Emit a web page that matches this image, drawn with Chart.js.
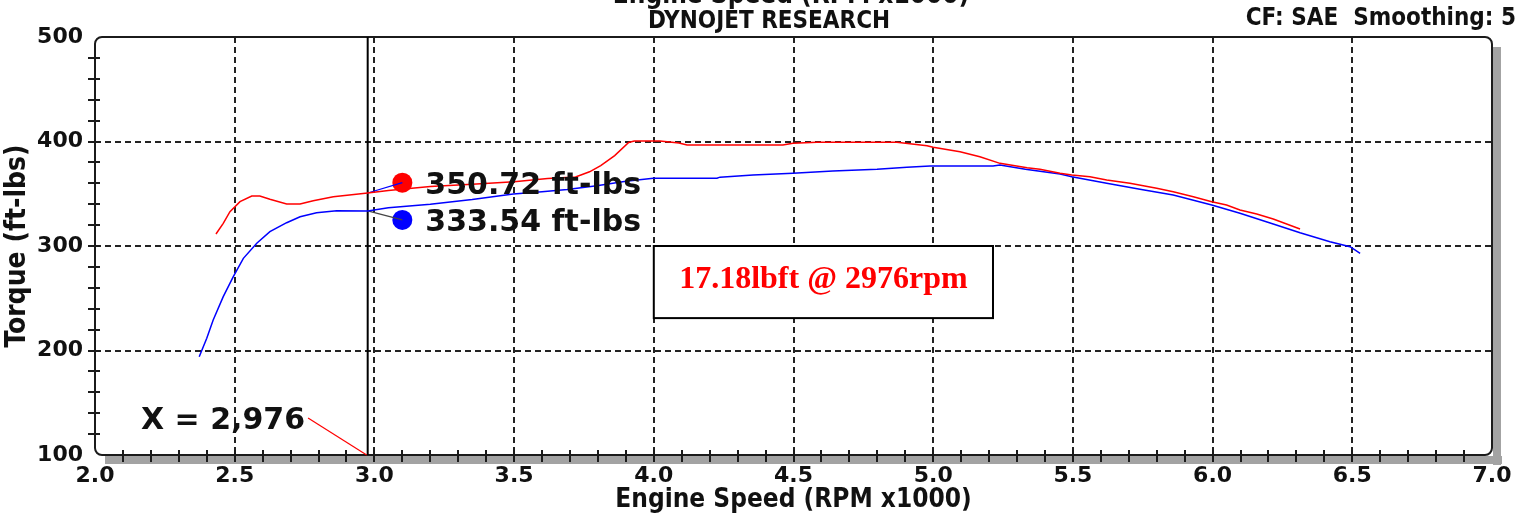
<!DOCTYPE html>
<html>
<head>
<meta charset="utf-8">
<script src="https://cdn.jsdelivr.net/npm/chart.js@4/dist/chart.umd.min.js"></script>
<style>
  html, body { margin: 0; padding: 0; background: #fff; }
</style>
</head>
<body>
<canvas id="dyno" width="1534" height="514"></canvas>
<script>
// Run 1 (red) - engine speed in RPM x1000 / torque in ft-lbs
const rpmRun1 = [2.433, 2.459, 2.483, 2.519, 2.561, 2.59, 2.626, 2.686, 2.734, 2.781, 2.853, 2.976,
  3.05, 3.2, 3.35, 3.5, 3.62, 3.72, 3.77, 3.81, 3.86, 3.91, 3.93, 4.022, 4.09, 4.119, 4.462, 4.498,
  4.584, 4.87, 4.978, 5.0, 5.096, 5.167, 5.239, 5.336, 5.382, 5.454, 5.496, 5.561, 5.621, 5.704,
  5.8, 5.859, 5.931, 5.997, 6.05, 6.098, 6.158, 6.217, 6.265, 6.313];
const torqueRun1 = [311.5, 321.7, 332.8, 342.4, 347.8, 347.8, 344.7, 340.2, 340.2, 343.3, 347.2, 350.72,
  353, 357, 359, 361.5, 364.5, 366, 371, 377, 386.5, 399, 400.5, 400.5, 398.5, 396.7, 396.7, 398.3,
  399.2, 399.2, 396, 394.5, 390.2, 385.4, 379.1, 374.9, 373.4, 369.6, 368, 366.3, 363.2, 360,
  355.2, 352, 347.2, 342.4, 339.2, 334.4, 330.6, 325.8, 321.1, 316.3];

// Run 2 (blue)
const rpmRun2 = [2.373, 2.4, 2.423, 2.459, 2.495, 2.531, 2.579, 2.626, 2.686, 2.734, 2.793, 2.865, 2.976,
  3.05, 3.2, 3.35, 3.497, 3.6, 3.69, 3.796, 3.9, 3.998, 4.226, 4.237, 4.355, 4.498, 4.641, 4.799,
  4.906, 4.989, 5.214, 5.239, 5.33, 5.454, 5.496, 5.621, 5.74, 5.859, 5.997, 6.098, 6.217, 6.313,
  6.42, 6.492, 6.528];
const torqueRun2 = [194.1, 211.7, 229.2, 251.5, 270.6, 288.2, 302.6, 313.7, 322.3, 328, 331.9, 333.8, 333.54,
  336.5, 340, 344.5, 349.8, 352, 354, 357.7, 362, 364.8, 364.8, 365.9, 367.9, 369.6, 371.8, 373.4,
  375.3, 376.6, 376.6, 377.5, 373.5, 368.9, 366.3, 360, 354.3, 348.8, 339.2, 331.3, 321.1, 312.7,
  304.1, 299.3, 293];

const cursorRpm = 2.976;
const cursorTorque = [350.72, 333.54];
const markerRpm = 3.1;
const markerTorque = [360.6, 325];
const markerLabels = ["350.72 ft-lbs", "333.54 ft-lbs"];
const cursorLabel = "X = 2,976";
const noteText = "17.18lbft @ 2976rpm";
const topTitle = "DYNOJET RESEARCH";
const topRight = "CF: SAE  Smoothing: 5";
const xTitle = "Engine Speed (RPM x1000)";
const yTitle = "Torque (ft-lbs)";

const RED = "#ff0000", BLUE = "#0000ff";
const BOLD = "'DejaVu Sans', Verdana, sans-serif";
const COND = "'DejaVu Sans Condensed', 'Liberation Sans Narrow', 'DejaVu Sans', sans-serif";

const pts = (xs, ys) => xs.map((v, i) => ({ x: v, y: ys[i] }));
const isMult = (v, m) => Math.abs(v / m - Math.round(v / m)) < 1e-6;

const dynoDecor = {
  id: "dynoDecor",
  beforeDatasetsDraw(chart) {
    const { ctx, chartArea: a, scales: { x, y } } = chart;
    ctx.save();
    // 3D-ish shadow on the right and bottom of the frame
    ctx.fillStyle = "#a3a3a3";
    ctx.fillRect(a.right + 1, a.top + 10, 8, a.bottom - a.top);
    ctx.fillRect(a.left + 10, a.bottom + 1, a.right - a.left, 8);
    // frame
    ctx.strokeStyle = "#1b1b1b";
    ctx.lineWidth = 2;
    ctx.beginPath();
    ctx.roundRect(a.left, a.top, a.right - a.left, a.bottom - a.top, 7);
    ctx.stroke();
    // tick marks crossing the axes
    ctx.lineWidth = 2;
    const yt = y.ticks;
    for (let i = 1; i < yt.length - 1; i++) {
      const py = Math.round(y.getPixelForValue(yt[i].value));
      ctx.beginPath(); ctx.moveTo(a.left - 7, py); ctx.lineTo(a.left + 5, py); ctx.stroke();
    }
    const xt = x.ticks;
    for (let i = 1; i < xt.length - 1; i++) {
      const px = Math.round(x.getPixelForValue(xt[i].value));
      ctx.beginPath(); ctx.moveTo(px, a.bottom - 5); ctx.lineTo(px, a.bottom + 7); ctx.stroke();
    }
    // cursor line
    const cx = x.getPixelForValue(cursorRpm);
    ctx.lineWidth = 2;
    ctx.strokeStyle = "#000";
    ctx.beginPath(); ctx.moveTo(cx, a.top); ctx.lineTo(cx, a.bottom); ctx.stroke();
    ctx.restore();
  },
  afterDatasetsDraw(chart) {
    const { ctx, chartArea: a, scales: { x, y } } = chart;
    ctx.save();
    // titles on top
    ctx.fillStyle = "#111";
    ctx.textAlign = "center";
    ctx.textBaseline = "alphabetic";
    ctx.font = `bold 26px ${COND}`;
    ctx.fillText(xTitle, 791, 3);
    ctx.font = `bold 24px ${COND}`;
    ctx.fillText(topTitle, 769, 28);
    ctx.textAlign = "right";
    ctx.fillText(topRight, 1516, 25);

    // marker labels
    ctx.textAlign = "left";
    ctx.font = `bold 30px ${BOLD}`;
    ctx.fillStyle = "#111";
    markerLabels.forEach((t, i) => {
      const px = x.getPixelForValue(markerRpm) + 23;
      const py = y.getPixelForValue(markerTorque[i]) + 11;
      ctx.fillText(t, px, py);
    });

    // cursor readout with leader down to the axis
    const cx = x.getPixelForValue(cursorRpm);
    ctx.fillText(cursorLabel, 141, 429);
    const lw = ctx.measureText(cursorLabel).width;
    ctx.strokeStyle = RED;
    ctx.lineWidth = 1.2;
    ctx.beginPath(); ctx.moveTo(141 + lw + 3, 418); ctx.lineTo(cx - 1, a.bottom); ctx.stroke();

    // note box
    const bx0 = x.getPixelForValue(4.0), bx1 = x.getPixelForValue(5.214);
    const by0 = y.getPixelForValue(300), by1 = y.getPixelForValue(231);
    ctx.fillStyle = "#fff";
    ctx.fillRect(bx0, by0, bx1 - bx0, by1 - by0);
    ctx.strokeStyle = "#000";
    ctx.lineWidth = 2;
    ctx.strokeRect(bx0, by0, bx1 - bx0, by1 - by0);
    ctx.fillStyle = RED;
    ctx.textAlign = "center";
    ctx.font = "bold 32px 'Liberation Serif', 'Times New Roman', serif";
    ctx.fillText(noteText, (bx0 + bx1) / 2, by0 + 42);
    ctx.restore();
  },
};

new Chart(document.getElementById("dyno"), {
  type: "line",
  data: {
    datasets: [
      { data: pts(rpmRun1, torqueRun1), borderColor: RED, borderWidth: 1.5, pointRadius: 0, tension: 0 },
      { data: pts(rpmRun2, torqueRun2), borderColor: BLUE, borderWidth: 1.5, pointRadius: 0, tension: 0 },
      { data: [{ x: cursorRpm, y: cursorTorque[0] }, { x: markerRpm, y: markerTorque[0] }],
        borderColor: BLUE, borderWidth: 1.2, pointRadius: 0 },
      { data: [{ x: cursorRpm, y: cursorTorque[1] }, { x: markerRpm, y: markerTorque[1] }],
        borderColor: "#444", borderWidth: 1.2, pointRadius: 0 },
      { type: "scatter", data: [{ x: markerRpm, y: markerTorque[0] }], pointRadius: 10,
        backgroundColor: RED, borderWidth: 0 },
      { type: "scatter", data: [{ x: markerRpm, y: markerTorque[1] }], pointRadius: 10,
        backgroundColor: BLUE, borderWidth: 0 },
    ],
  },
  options: {
    responsive: false,
    animation: false,
    devicePixelRatio: 1,
    parsing: false,
    layout: { padding: { top: 37, right: 42, left: 0, bottom: 0 } },
    plugins: { legend: { display: false }, tooltip: { enabled: false } },
    scales: {
      x: {
        type: "linear", min: 2, max: 7,
        afterFit: (s) => { s.height = 59; },
        ticks: {
          stepSize: 0.1, autoSkip: false, maxRotation: 0, padding: 8, color: "#111",
          font: { family: BOLD, size: 22, weight: "bold" },
          callback: (v) => (isMult(v, 0.5) ? v.toFixed(1) : ""),
        },
        grid: {
          drawTicks: false, lineWidth: 2,
          color: (c) => (c.tick && isMult(c.tick.value, 0.5) && c.tick.value > 2.01 && c.tick.value < 6.99 ? "#222" : "rgba(0,0,0,0)"),
        },
        border: { display: false, dash: [6, 4] },
        title: { display: true, text: xTitle, color: "#111", padding: { top: 0, bottom: 0 },
          font: { family: COND, size: 26, weight: "bold", lineHeight: 1.05 } },
      },
      y: {
        min: 100, max: 500,
        afterFit: (s) => { s.width = 95; },
        ticks: {
          stepSize: 20, autoSkip: false, padding: 12, color: "#111",
          font: { family: BOLD, size: 22, weight: "bold" },
          callback: (v) => (isMult(v, 100) ? String(Math.round(v)) : ""),
        },
        grid: {
          drawTicks: false, lineWidth: 2,
          color: (c) => (c.tick && isMult(c.tick.value, 100) && c.tick.value > 101 && c.tick.value < 499 ? "#222" : "rgba(0,0,0,0)"),
        },
        border: { display: false, dash: [6, 4] },
        title: { display: true, text: yTitle, color: "#111", padding: { top: 1, bottom: 0 },
          font: { family: COND, size: 28, weight: "bold", lineHeight: 1.2 } },
      },
    },
  },
  plugins: [dynoDecor],
});
</script>
</body>
</html>
